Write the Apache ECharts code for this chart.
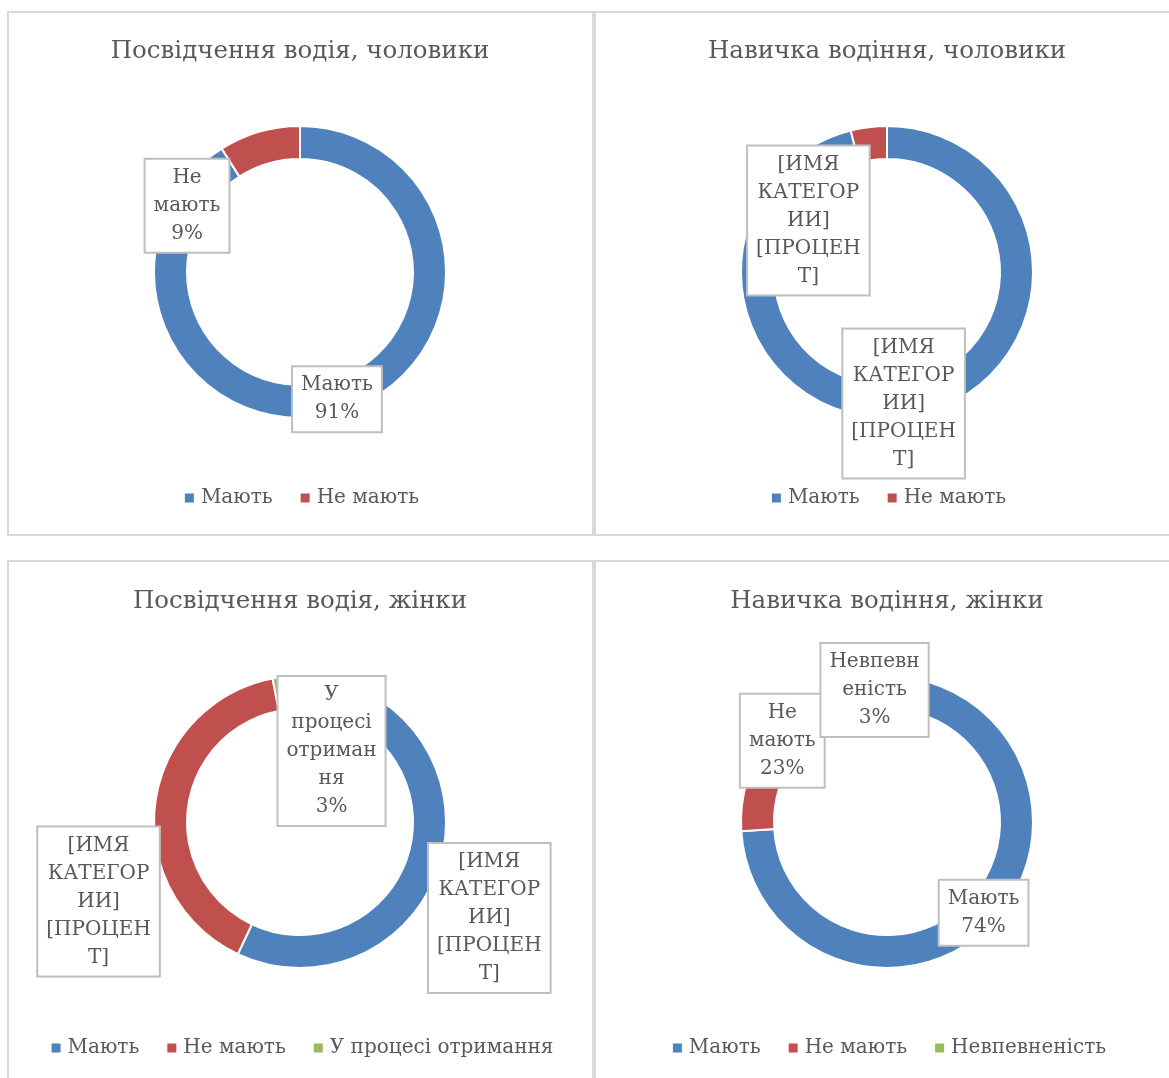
<!DOCTYPE html>
<html>
<head>
<meta charset="utf-8">
<script src="https://cdn.jsdelivr.net/npm/echarts@6/dist/echarts.min.js"></script>
<style>
  html, body { margin: 0; padding: 0; background: #fff; }
  #chart { width: 1169px; height: 1078px; }
</style>
</head>
<body>
<div id="chart"></div>
<script>
// Categories and shares (percent) for each of the four donuts
const titles = [
  'Посвідчення водія, чоловики',
  'Навичка водіння, чоловики',
  'Посвідчення водія, жінки',
  'Навичка водіння, жінки'
];
const menLicenseCats = ['Мають', 'Не мають'];
const menLicenseVals = [91, 9];
const menSkillCats = ['Мають', 'Не мають'];
const menSkillVals = [96, 4];
const womenLicenseCats = ['Мають', 'Не мають', 'У процесі отримання'];
const womenLicenseVals = [57, 40, 3];
const womenSkillCats = ['Мають', 'Не мають', 'Невпевненість'];
const womenSkillVals = [74, 23, 3];

// Label texts as they are wrapped inside their boxes ({d} = percent)
const placeholderLabel = '[ИМЯ\nКАТЕГОР\nИИ]\n[ПРОЦЕН\nТ]';
const menLicenseLabels = ['Мають\n{d}%', 'Не\nмають\n{d}%'];
const menSkillLabels = [placeholderLabel, placeholderLabel];
const womenLicenseLabels = [placeholderLabel, placeholderLabel, 'У\nпроцесі\nотриман\nня\n{d}%'];
const womenSkillLabels = ['Мають\n{d}%', 'Не\nмають\n{d}%', 'Невпевн\nеність\n{d}%'];

const COLORS = ['#4f81bd', '#c0504d', '#9bbb59'];
const FONT = 'DejaVu Serif';
const TEXT = '#595959';

const chart = echarts.init(document.getElementById('chart'), null, { renderer: 'canvas' });

// panel frames
const panels = [
  { x: 8, y: 12, w: 585, h: 523 },
  { x: 595, y: 12, w: 600, h: 523 },
  { x: 8, y: 561, w: 585, h: 540 },
  { x: 595, y: 561, w: 600, h: 540 }
];
const centers = [[300, 272], [887, 272], [300, 822], [887, 822]];
const titleTops = [39, 39, 589, 589];
const legendTops = [488, 488, 1038, 1038];

// offsets of labels moved away from the ring centre line
const labelShift = [
  { 1: [-76, 61] },
  { 1: [-62, 80] },
  { 0: [60, 67], 1: [-70, 96], 2: [44, 61] },
  {}
];

const cats = [menLicenseCats, menSkillCats, womenLicenseCats, womenSkillCats];
const vals = [menLicenseVals, menSkillVals, womenLicenseVals, womenSkillVals];
const labels = [menLicenseLabels, menSkillLabels, womenLicenseLabels, womenSkillLabels];

// legend geometry, used to centre each legend under its donut
const LEG_FONT = 20, ICON = 11, ICON_GAP = 5, TEXT_PAD = 1, ITEM_GAP = 26;
const measureCtx = document.createElement('canvas').getContext('2d');
measureCtx.font = LEG_FONT + 'px "' + FONT + '"';
function legendWidth(names) {
  return names.reduce((s, n) => s + ICON + ICON_GAP + TEXT_PAD + measureCtx.measureText(n).width, 0)
    + ITEM_GAP * (names.length - 1);
}

const series = cats.map((c, i) => ({
  type: 'pie',
  radius: [113, 146],
  center: centers[i],
  startAngle: 90,
  clockwise: true,
  avoidLabelOverlap: false,
  silent: true,
  itemStyle: { borderColor: '#fff', borderWidth: 2 },
  labelLine: { show: false },
  label: {
    show: true,
    position: 'inside',
    fontFamily: FONT,
    fontSize: 20,
    lineHeight: 28,
    color: TEXT,
    align: 'center',
    backgroundColor: '#fff',
    borderColor: '#bfbfbf',
    borderWidth: 2,
    padding: [4, 8, 4, 8]
  },
  labelLayout: (p) => {
    const s = labelShift[i][p.dataIndex];
    return s ? { dx: s[0], dy: s[1] } : {};
  },
  data: c.map((name, k) => ({
    name,
    value: vals[i][k],
    itemStyle: { color: COLORS[k] },
    label: { formatter: labels[i][k] }
  }))
}));

const option = {
  animation: false,
  color: COLORS,
  graphic: panels.map(p => ({
    type: 'rect',
    shape: { x: p.x, y: p.y, width: p.w, height: p.h },
    style: { fill: '#fff', stroke: '#d9d9d9', lineWidth: 2 },
    z: -10
  })),
  title: titles.map((t, i) => ({
    text: t,
    left: centers[i][0],
    textAlign: 'center',
    top: titleTops[i],
    padding: 0,
    textStyle: { fontFamily: FONT, fontSize: 24.5, fontWeight: 'normal', color: TEXT }
  })),
  legend: cats.map((c, i) => ({
    data: c,
    left: centers[i][0] - legendWidth(c) / 2,
    top: legendTops[i],
    width: 800,
    padding: 0,
    itemWidth: ICON,
    itemHeight: ICON,
    itemGap: ITEM_GAP,
    icon: 'rect',
    selectedMode: false,
    textStyle: { fontFamily: FONT, fontSize: LEG_FONT, color: TEXT, padding: [0, 0, 0, TEXT_PAD] }
  })),
  series
};
chart.setOption(option);
</script>
</body>
</html>
